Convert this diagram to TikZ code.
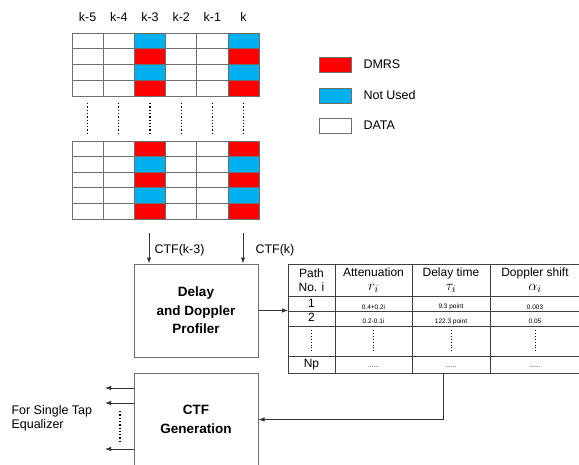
\documentclass[tikz,border=0pt]{standalone}
\usepackage{fontspec}
\setmainfont{Liberation Sans}
\usetikzlibrary{arrows.meta,positioning}
\definecolor{dmrs}{RGB}{255,0,0}
\definecolor{unused}{RGB}{0,176,240}
\definecolor{gridline}{RGB}{110,110,110}
\newcommand{\bigsym}[1]{{\fontsize{15}{15}\selectfont$#1$}}
\tikzset{
  cell/.style={draw=gridline, line width=1pt},
  blk/.style={draw=gridline, line width=1pt, minimum width=124pt, minimum height=93pt, align=center,
    font=\fontsize{13.5}{18.5}\selectfont\bfseries},
  tline/.style={draw=black!75, line width=0.8pt},
  arr/.style={-{Latex[length=6pt,width=4.5pt]}, line width=0.9pt, draw=black!80},
  vdots/.style={dotted, line width=1.3pt},
  lbl/.style={font=\fontsize{12.5}{14}\selectfont},
  hdr/.style={font=\fontsize{12}{14}\selectfont, align=center, inner sep=1pt},
  val/.style={font=\fontsize{6.5}{7}\selectfont},
}
\begin{document}
\begin{tikzpicture}[x=1pt,y=-1pt]
\useasboundingbox (0,0) rectangle (579,464);
\clip (0,0) rectangle (579,464);
% resource grid
\foreach \c/\txt in {0/k-5,1/k-4,2/k-3,3/k-2,4/k-1,5/k}{
  \node[lbl] (sc\c) at (87.6+31.2*\c,17) {\txt};
  \foreach \r in {0,...,3} \draw[cell,fill=white] (72+31.2*\c,33+15.75*\r) rectangle ++(31.2,15.75);
  \foreach \r in {0,...,4} \draw[cell,fill=white] (72+31.2*\c,141+15.6*\r) rectangle ++(31.2,15.6);
  \draw[vdots] (87.6+31.2*\c,103) -- (87.6+31.2*\c,135);
}
\foreach \c in {2,5}{
  \foreach \r/\clr in {0/unused,1/dmrs,2/unused,3/dmrs}
    \draw[cell,fill=\clr] (72+31.2*\c,33+15.75*\r) rectangle ++(31.2,15.75);
  \foreach \r/\clr in {0/dmrs,1/unused,2/dmrs,3/unused,4/dmrs}
    \draw[cell,fill=\clr] (72+31.2*\c,141+15.6*\r) rectangle ++(31.2,15.6);
}
% legend
\foreach \i/\y/\clr/\txt in {1/64.5/dmrs/DMRS,2/95.5/unused/Not Used,3/125.5/white/DATA}{
  \draw[cell,fill=\clr] (319,\y-7.5) rectangle (351,\y+7.5);
  \node[lbl,anchor=west] (leg\i) at (360,\y) {\txt};
}
% profiler
\node[blk] (prof) at (196,310.5) {Delay\\and Doppler\\Profiler};
\coordinate (in3) at (149,233);
\coordinate (ink) at (243,233);
\draw[arr] (in3) -- (in3 |- prof.north);
\draw[arr] (ink) -- (ink |- prof.north);
\node[lbl,anchor=west] (ctf3) at (151,250) {CTF(k-3)};
\node[lbl,anchor=west] (ctfk) at (252,250) {CTF(k)};
% path table
\node[tline, inner sep=0pt, minimum width=300pt, minimum height=109pt, anchor=north west] (tbl) at (288,264) {};
\foreach \y in {296,311,326,356} \draw[tline] (288,\y) -- (590,\y);
\foreach \x in {335,412,490} \draw[tline] (\x,264) -- (\x,373);
\draw[arr] (prof.east) -- (prof.east -| tbl.west);
\node[hdr] (h1) at (311.5,280) {Path\\No. i};
\node[hdr] (h2) at (373.5,280) {Attenuation\\[0pt]\bigsym{r_i}};
\node[hdr] (h3) at (451,280) {Delay time\\[0pt]\bigsym{\tau_i}};
\node[hdr] (h4) at (535,280) {Doppler shift\\[0pt]\bigsym{\alpha_i}};
\node[hdr] (p1) at (311.5,303) {1};
\node[hdr] (p2) at (311.5,317) {2};
\node[hdr] (pn) at (311.5,365) {Np};
\foreach \x/\a/\b in {373.5/0.4+0.2i/0.2-0.1i, 451/9.3 point/122.3 point, 535/0.003/0.05}{
  \node[val] at (\x,307) {\a};
  \node[val] at (\x,321.5) {\b};
  \node[val] at (\x,367) {......};
}
\foreach \x in {311.5,373.5,451,535} \draw[dotted, line width=0.9pt] (\x,330) -- (\x,352);
% CTF generation
\node[blk] (gen) at (196,419.5) {CTF\\Generation};
\coordinate (tapout) at (443,373);
\draw[arr] (tapout) |- (gen.east);
\foreach \y in {388,403,449}{
  \coordinate (eq\y) at (105,\y);
  \draw[arr] (gen.west |- eq\y) -- (eq\y);
}
\draw[vdots] (120,411) -- (120,442);
\node[lbl, anchor=west, align=left] (eq) at (8,418) {For Single Tap\\Equalizer};
\end{tikzpicture}
\end{document}
